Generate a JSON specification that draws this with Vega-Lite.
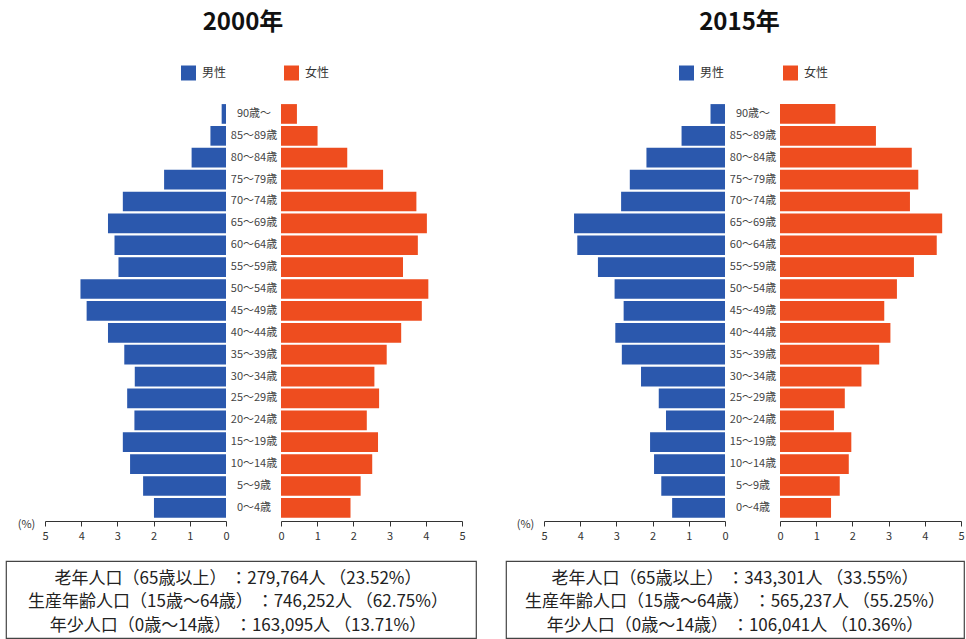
{
  "$schema": "https://vega.github.io/schema/vega-lite/v6.json",
  "padding": {"left": 5, "top": 10, "right": 0, "bottom": 0},
  "background": "white",
  "config": {
    "font": "Noto Sans CJK JP",
    "view": {"stroke": null},
    "axis": {"labelFont": "Noto Sans CJK JP", "titleFont": "Noto Sans CJK JP", "grid": false},
    "legend": {"labelFont": "Noto Sans CJK JP"}
  },
  "datasets": {
    "pop": [
      {"year": 2000, "sex": "男性", "age": "90歳～", "pct": 0.12},
      {"year": 2000, "sex": "男性", "age": "85～89歳", "pct": 0.43},
      {"year": 2000, "sex": "男性", "age": "80～84歳", "pct": 0.95},
      {"year": 2000, "sex": "男性", "age": "75～79歳", "pct": 1.71},
      {"year": 2000, "sex": "男性", "age": "70～74歳", "pct": 2.85},
      {"year": 2000, "sex": "男性", "age": "65～69歳", "pct": 3.26},
      {"year": 2000, "sex": "男性", "age": "60～64歳", "pct": 3.08},
      {"year": 2000, "sex": "男性", "age": "55～59歳", "pct": 2.97},
      {"year": 2000, "sex": "男性", "age": "50～54歳", "pct": 4.02},
      {"year": 2000, "sex": "男性", "age": "45～49歳", "pct": 3.85},
      {"year": 2000, "sex": "男性", "age": "40～44歳", "pct": 3.26},
      {"year": 2000, "sex": "男性", "age": "35～39歳", "pct": 2.81},
      {"year": 2000, "sex": "男性", "age": "30～34歳", "pct": 2.52},
      {"year": 2000, "sex": "男性", "age": "25～29歳", "pct": 2.73},
      {"year": 2000, "sex": "男性", "age": "20～24歳", "pct": 2.53},
      {"year": 2000, "sex": "男性", "age": "15～19歳", "pct": 2.85},
      {"year": 2000, "sex": "男性", "age": "10～14歳", "pct": 2.65},
      {"year": 2000, "sex": "男性", "age": "5～9歳", "pct": 2.29},
      {"year": 2000, "sex": "男性", "age": "0～4歳", "pct": 1.99},
      {"year": 2000, "sex": "女性", "age": "90歳～", "pct": 0.44},
      {"year": 2000, "sex": "女性", "age": "85～89歳", "pct": 1.01},
      {"year": 2000, "sex": "女性", "age": "80～84歳", "pct": 1.83},
      {"year": 2000, "sex": "女性", "age": "75～79歳", "pct": 2.82},
      {"year": 2000, "sex": "女性", "age": "70～74歳", "pct": 3.74},
      {"year": 2000, "sex": "女性", "age": "65～69歳", "pct": 4.03},
      {"year": 2000, "sex": "女性", "age": "60～64歳", "pct": 3.78},
      {"year": 2000, "sex": "女性", "age": "55～59歳", "pct": 3.37},
      {"year": 2000, "sex": "女性", "age": "50～54歳", "pct": 4.07},
      {"year": 2000, "sex": "女性", "age": "45～49歳", "pct": 3.89},
      {"year": 2000, "sex": "女性", "age": "40～44歳", "pct": 3.32},
      {"year": 2000, "sex": "女性", "age": "35～39歳", "pct": 2.92},
      {"year": 2000, "sex": "女性", "age": "30～34歳", "pct": 2.58},
      {"year": 2000, "sex": "女性", "age": "25～29歳", "pct": 2.71},
      {"year": 2000, "sex": "女性", "age": "20～24歳", "pct": 2.37},
      {"year": 2000, "sex": "女性", "age": "15～19歳", "pct": 2.68},
      {"year": 2000, "sex": "女性", "age": "10～14歳", "pct": 2.52},
      {"year": 2000, "sex": "女性", "age": "5～9歳", "pct": 2.20},
      {"year": 2000, "sex": "女性", "age": "0～4歳", "pct": 1.92},
      {"year": 2015, "sex": "男性", "age": "90歳～", "pct": 0.40},
      {"year": 2015, "sex": "男性", "age": "85～89歳", "pct": 1.20},
      {"year": 2015, "sex": "男性", "age": "80～84歳", "pct": 2.17},
      {"year": 2015, "sex": "男性", "age": "75～79歳", "pct": 2.63},
      {"year": 2015, "sex": "男性", "age": "70～74歳", "pct": 2.87},
      {"year": 2015, "sex": "男性", "age": "65～69歳", "pct": 4.17},
      {"year": 2015, "sex": "男性", "age": "60～64歳", "pct": 4.08},
      {"year": 2015, "sex": "男性", "age": "55～59歳", "pct": 3.51},
      {"year": 2015, "sex": "男性", "age": "50～54歳", "pct": 3.05},
      {"year": 2015, "sex": "男性", "age": "45～49歳", "pct": 2.80},
      {"year": 2015, "sex": "男性", "age": "40～44歳", "pct": 3.03},
      {"year": 2015, "sex": "男性", "age": "35～39歳", "pct": 2.85},
      {"year": 2015, "sex": "男性", "age": "30～34歳", "pct": 2.32},
      {"year": 2015, "sex": "男性", "age": "25～29歳", "pct": 1.83},
      {"year": 2015, "sex": "男性", "age": "20～24歳", "pct": 1.63},
      {"year": 2015, "sex": "男性", "age": "15～19歳", "pct": 2.07},
      {"year": 2015, "sex": "男性", "age": "10～14歳", "pct": 1.96},
      {"year": 2015, "sex": "男性", "age": "5～9歳", "pct": 1.76},
      {"year": 2015, "sex": "男性", "age": "0～4歳", "pct": 1.46},
      {"year": 2015, "sex": "女性", "age": "90歳～", "pct": 1.53},
      {"year": 2015, "sex": "女性", "age": "85～89歳", "pct": 2.65},
      {"year": 2015, "sex": "女性", "age": "80～84歳", "pct": 3.64},
      {"year": 2015, "sex": "女性", "age": "75～79歳", "pct": 3.82},
      {"year": 2015, "sex": "女性", "age": "70～74歳", "pct": 3.59},
      {"year": 2015, "sex": "女性", "age": "65～69歳", "pct": 4.48},
      {"year": 2015, "sex": "女性", "age": "60～64歳", "pct": 4.33},
      {"year": 2015, "sex": "女性", "age": "55～59歳", "pct": 3.70},
      {"year": 2015, "sex": "女性", "age": "50～54歳", "pct": 3.23},
      {"year": 2015, "sex": "女性", "age": "45～49歳", "pct": 2.88},
      {"year": 2015, "sex": "女性", "age": "40～44歳", "pct": 3.05},
      {"year": 2015, "sex": "女性", "age": "35～39歳", "pct": 2.74},
      {"year": 2015, "sex": "女性", "age": "30～34歳", "pct": 2.25},
      {"year": 2015, "sex": "女性", "age": "25～29歳", "pct": 1.79},
      {"year": 2015, "sex": "女性", "age": "20～24歳", "pct": 1.49},
      {"year": 2015, "sex": "女性", "age": "15～19歳", "pct": 1.97},
      {"year": 2015, "sex": "女性", "age": "10～14歳", "pct": 1.90},
      {"year": 2015, "sex": "女性", "age": "5～9歳", "pct": 1.65},
      {"year": 2015, "sex": "女性", "age": "0～4歳", "pct": 1.41}
    ],
    "notes": [
      {"year": 2000, "line": 1, "text": "老年人口（65歳以上） ：279,764人 （23.52%）"},
      {"year": 2000, "line": 2, "text": "生産年齢人口（15歳～64歳） ：746,252人 （62.75%）"},
      {"year": 2000, "line": 3, "text": "年少人口（0歳～14歳） ：163,095人 （13.71%）"},
      {"year": 2015, "line": 1, "text": "老年人口（65歳以上） ：343,301人 （33.55%）"},
      {"year": 2015, "line": 2, "text": "生産年齢人口（15歳～64歳） ：565,237人 （55.25%）"},
      {"year": 2015, "line": 3, "text": "年少人口（0歳～14歳） ：106,041人 （10.36%）"}
    ]
  },
  "spacing": 28,
  "resolve": {"scale": {"color": "independent"}, "legend": {"color": "independent"}},
  "hconcat": [
    {
      "title": {"text": "2000年", "fontSize": 24, "fontWeight": "bold", "anchor": "middle", "offset": 31, "dx": 2, "color": "#111", "font": "Noto Sans CJK JP"},
      "spacing": 19,
      "resolve": {"scale": {"color": "independent"}, "legend": {"color": "independent"}},
      "vconcat": [
        {
          "spacing": 55,
          "bounds": "flush",
          "resolve": {"scale": {"color": "independent"}, "legend": {"color": "independent"}},
          "hconcat": [
            {
              "width": 220, "height": 418,
              "data": {"name": "pop"},
              "transform": [{"filter": "datum.year == 2000 && datum.sex == '男性'"}],
              "mark": {"type": "bar"},
              "encoding": {
                "y": {"field": "age", "type": "ordinal", "sort": ["90歳～","85～89歳","80～84歳","75～79歳","70～74歳","65～69歳","60～64歳","55～59歳","50～54歳","45～49歳","40～44歳","35～39歳","30～34歳","25～29歳","20～24歳","15～19歳","10～14歳","5～9歳","0～4歳"], "axis": null, "scale": {"paddingInner": 0.1, "paddingOuter": 0.1, "align": 0.25}},
                "x": {"field": "pct", "type": "quantitative", "scale": {"domain": [0, 5], "range": [220, 39], "nice": false, "zero": true},
                      "axis": {"values": [0,1,2,3,4,5], "title": "(%)", "titleX": 20, "titleY": 3, "titleAlign": "center", "titleBaseline": "middle", "titleFontWeight": "normal", "titleFontSize": 11, "titleColor": "#333", "labelFontSize": 11, "labelColor": "#333", "labelPadding": 4, "tickSize": 5, "tickColor": "#333", "domainColor": "#333", "labelFlush": false}},
                "color": {"field": "sex", "type": "nominal", "scale": {"domain": ["男性","女性"], "range": ["#2b58ad","#ee4d1f"]},
                          "legend": {"orient": "none", "legendX": 175, "legendY": -37.5, "direction": "horizontal", "title": null, "symbolType": "square", "symbolSize": 225, "symbolStrokeWidth": 0, "symbolOpacity": 1, "labelFontSize": 12, "labelOffset": 6, "columnPadding": 57, "padding": 0, "labelColor": "#333"}}
              }
            },
            {
              "width": 181, "height": 418,
              "data": {"name": "pop"},
              "transform": [{"filter": "datum.year == 2000 && datum.sex == '女性'"}],
              "mark": {"type": "bar"},
              "encoding": {
                "y": {"field": "age", "type": "ordinal", "sort": ["90歳～","85～89歳","80～84歳","75～79歳","70～74歳","65～69歳","60～64歳","55～59歳","50～54歳","45～49歳","40～44歳","35～39歳","30～34歳","25～29歳","20～24歳","15～19歳","10～14歳","5～9歳","0～4歳"], "scale": {"paddingInner": 0.1, "paddingOuter": 0.1, "align": 0.25},
                      "axis": {"orient": "left", "title": null, "domain": false, "ticks": false, "tickSize": 0, "labelAlign": "center", "labelPadding": 27.5, "labelFontSize": 11, "labelColor": "#444"}},
                "x": {"field": "pct", "type": "quantitative", "scale": {"domain": [0, 5], "nice": false, "zero": true},
                      "axis": {"values": [0,1,2,3,4,5], "title": null, "labelFontSize": 11, "labelColor": "#333", "labelPadding": 4, "tickSize": 5, "tickColor": "#333", "domainColor": "#333", "labelFlush": false}},
                "color": {"field": "sex", "type": "nominal", "scale": {"domain": ["男性","女性"], "range": ["#2b58ad","#ee4d1f"]}, "legend": null}
              }
            }
          ]
        },
        {
          "width": 470, "height": 77,
          "view": {"stroke": "#444", "strokeWidth": 1.2},
          "data": {"name": "notes"},
          "transform": [{"filter": "datum.year == 2000"}],
          "mark": {"type": "text", "fontSize": 17, "color": "#222", "baseline": "middle", "align": "center", "dx": -3, "font": "Noto Sans CJK JP"},
          "encoding": {
            "y": {"field": "line", "type": "ordinal", "axis": null, "scale": {"type": "point", "padding": 0.625, "align": 0.6}},
            "text": {"field": "text"}
          }
        }
      ]
    },
    {
      "title": {"text": "2015年", "fontSize": 24, "fontWeight": "bold", "anchor": "middle", "offset": 31, "dx": 4.5, "color": "#111", "font": "Noto Sans CJK JP"},
      "spacing": 19,
      "resolve": {"scale": {"color": "independent"}, "legend": {"color": "independent"}},
      "vconcat": [
        {
          "spacing": 55,
          "bounds": "flush",
          "resolve": {"scale": {"color": "independent"}, "legend": {"color": "independent"}},
          "hconcat": [
            {
              "width": 219, "height": 418,
              "data": {"name": "pop"},
              "transform": [{"filter": "datum.year == 2015 && datum.sex == '男性'"}],
              "mark": {"type": "bar"},
              "encoding": {
                "y": {"field": "age", "type": "ordinal", "sort": ["90歳～","85～89歳","80～84歳","75～79歳","70～74歳","65～69歳","60～64歳","55～59歳","50～54歳","45～49歳","40～44歳","35～39歳","30～34歳","25～29歳","20～24歳","15～19歳","10～14歳","5～9歳","0～4歳"], "axis": null, "scale": {"paddingInner": 0.1, "paddingOuter": 0.1, "align": 0.25}},
                "x": {"field": "pct", "type": "quantitative", "scale": {"domain": [0, 5], "range": [219, 38], "nice": false, "zero": true},
                      "axis": {"values": [0,1,2,3,4,5], "title": "(%)", "titleX": 19, "titleY": 3, "titleAlign": "center", "titleBaseline": "middle", "titleFontWeight": "normal", "titleFontSize": 11, "titleColor": "#333", "labelFontSize": 11, "labelColor": "#333", "labelPadding": 4, "tickSize": 5, "tickColor": "#333", "domainColor": "#333", "labelFlush": false}},
                "color": {"field": "sex", "type": "nominal", "scale": {"domain": ["男性","女性"], "range": ["#2b58ad","#ee4d1f"]},
                          "legend": {"orient": "none", "legendX": 173, "legendY": -37.5, "direction": "horizontal", "title": null, "symbolType": "square", "symbolSize": 225, "symbolStrokeWidth": 0, "symbolOpacity": 1, "labelFontSize": 12, "labelOffset": 6, "columnPadding": 58, "padding": 0, "labelColor": "#333"}}
              }
            },
            {
              "width": 181, "height": 418,
              "data": {"name": "pop"},
              "transform": [{"filter": "datum.year == 2015 && datum.sex == '女性'"}],
              "mark": {"type": "bar"},
              "encoding": {
                "y": {"field": "age", "type": "ordinal", "sort": ["90歳～","85～89歳","80～84歳","75～79歳","70～74歳","65～69歳","60～64歳","55～59歳","50～54歳","45～49歳","40～44歳","35～39歳","30～34歳","25～29歳","20～24歳","15～19歳","10～14歳","5～9歳","0～4歳"], "scale": {"paddingInner": 0.1, "paddingOuter": 0.1, "align": 0.25},
                      "axis": {"orient": "left", "title": null, "domain": false, "ticks": false, "tickSize": 0, "labelAlign": "center", "labelPadding": 27.5, "labelFontSize": 11, "labelColor": "#444"}},
                "x": {"field": "pct", "type": "quantitative", "scale": {"domain": [0, 5], "nice": false, "zero": true},
                      "axis": {"values": [0,1,2,3,4,5], "title": null, "labelFontSize": 11, "labelColor": "#333", "labelPadding": 4, "tickSize": 5, "tickColor": "#333", "domainColor": "#333", "labelFlush": false}},
                "color": {"field": "sex", "type": "nominal", "scale": {"domain": ["男性","女性"], "range": ["#2b58ad","#ee4d1f"]}, "legend": null}
              }
            }
          ]
        },
        {
          "width": 458, "height": 77,
          "view": {"stroke": "#444", "strokeWidth": 1.2},
          "data": {"name": "notes"},
          "transform": [{"filter": "datum.year == 2015"}],
          "mark": {"type": "text", "fontSize": 17, "color": "#222", "baseline": "middle", "align": "center", "font": "Noto Sans CJK JP"},
          "encoding": {
            "y": {"field": "line", "type": "ordinal", "axis": null, "scale": {"type": "point", "padding": 0.625, "align": 0.6}},
            "text": {"field": "text"}
          }
        }
      ]
    }
  ]
}
